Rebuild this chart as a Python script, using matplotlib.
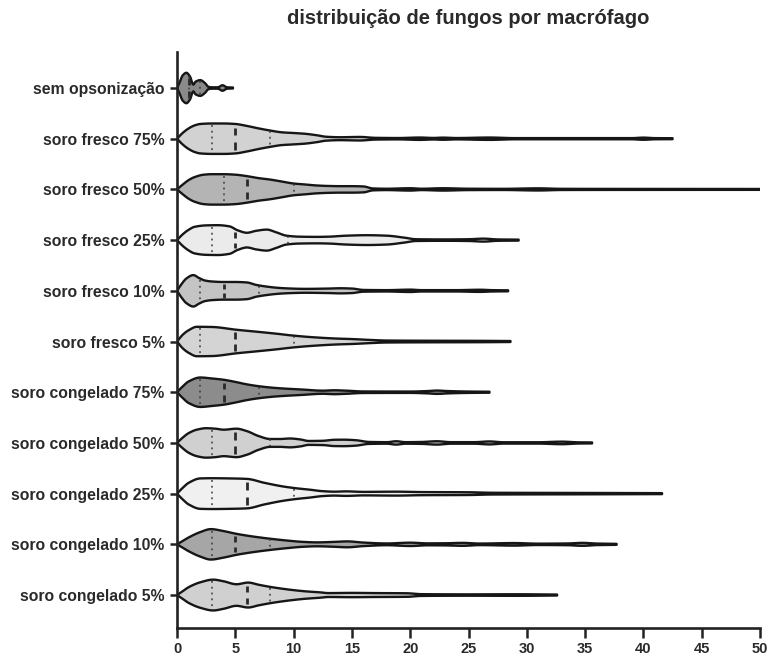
import numpy as np
import matplotlib
matplotlib.use("Agg")
import matplotlib.pyplot as plt

# ---------------- data ----------------
categories = [
    "sem opsonização",
    "soro fresco 75%",
    "soro fresco 50%",
    "soro fresco 25%",
    "soro fresco 10%",
    "soro fresco 5%",
    "soro congelado 75%",
    "soro congelado 50%",
    "soro congelado 25%",
    "soro congelado 10%",
    "soro congelado 5%",
]

# violin outlines: fungi-per-macrophage value and relative density (half width, 15.5 = widest)
v_sem = [0, 0.2, 0.5, 0.8, 1.1, 1.4, 1.6, 2.0, 2.4, 2.7, 3.0, 3.5, 3.9, 4.3, 4.8]
d_sem = [0, 5, 13, 15.5, 12, 3.5, 6.5, 8, 5, 1.2, 0.7, 0.7, 2.8, 0.7, 0.5]

v_f75 = [0, 0.5, 1, 1.5, 2, 3, 4, 5, 6, 7, 8, 9, 10, 11, 12, 12.8, 14, 15.7, 17, 19,
         20.8, 22, 22.8, 24, 26.8, 29, 35, 39, 40, 41, 42.5]
d_f75 = [0, 6, 10.5, 13.5, 15, 15.5, 15.5, 15, 13, 10.5, 8.3, 6.5, 5.8, 5, 3.5, 2.0, 1.5, 1.8, 0.9, 0.7,
         1.2, 0.8, 1.1, 0.7, 1.2, 0.6, 0.6, 0.6, 1.1, 0.6, 0.5]

v_f50 = [0, 0.5, 1, 1.5, 2.3, 3, 4, 5, 6, 7, 8, 9, 10, 11, 12, 13, 14, 15, 16, 16.8,
         18, 20, 21, 22.8, 25, 28, 31, 33, 40, 50]
d_f50 = [0, 5, 9.5, 12.5, 15, 15.5, 15.5, 15, 13.5, 11.5, 10, 8, 6, 5, 4, 3.5, 3.3, 3.3, 3, 1.0,
         0.7, 1.2, 0.7, 1.2, 0.7, 0.6, 1.1, 0.6, 0.5, 0.45]

v_f25 = [0, 0.5, 1, 1.5, 2.5, 3.5, 4.5, 5.2, 6, 6.8, 7.7, 8.5, 9.4, 10.5, 12, 13, 14.5,
         16.3, 18, 19.5, 20.5, 23, 25, 26.3, 27.5, 29.3]
d_f25 = [0, 6, 10.5, 13.5, 15, 15.2, 14, 10, 7.5, 9.5, 10.7, 8, 4.5, 3.5, 3.3, 3.5, 4.5,
         5, 4.5, 2.5, 0.9, 0.7, 0.9, 1.5, 0.7, 0.5]

v_f10 = [0, 0.4, 0.8, 1.4, 1.9, 2.4, 3, 4, 5, 6, 6.8, 7.7, 8.5, 9.4, 11, 13, 14, 15, 16,
         18, 20, 21, 24, 26, 27, 28.4]
d_f10 = [0, 7, 12.5, 16, 13, 10.5, 9.5, 9, 9, 8.5, 6, 4.3, 3.2, 2.5, 2.0, 2.3, 2.6, 2.3, 0.9,
         0.7, 1.2, 0.7, 0.7, 1.1, 0.7, 0.5]

v_f5 = [0, 0.5, 1, 1.7, 3, 5.1, 7, 8.5, 10, 11.5, 13.7, 15, 16.6, 18, 22, 26, 28.6]
d_f5 = [0, 7, 11.5, 15, 14.8, 12, 9.8, 8, 6, 4.5, 3, 2.5, 1.6, 1.0, 0.8, 0.7, 0.5]

v_c75 = [0, 0.5, 1, 2.0, 3, 4, 5, 6, 7.1, 8.5, 10.8, 12.5, 13.5, 14.5, 16, 20, 21.5,
         22.3, 23.2, 25, 26.8]
d_c75 = [0, 6, 11, 15, 14, 12.7, 10.5, 8, 6, 4.3, 2.7, 1.6, 2.0, 1.6, 0.8, 0.7, 1.2,
         1.7, 1.2, 0.7, 0.5]

v_c50 = [0, 0.5, 1, 1.7, 2.5, 3.3, 4, 5.1, 6, 7, 8, 8.8, 9.7, 10.6, 11.3, 12.5, 13.5,
         14.3, 15.3, 16.5, 18, 18.8, 19.6, 21, 22.3, 23.5, 25.5, 26.8, 28, 31, 33, 34.5, 35.6]
d_c50 = [0, 5.5, 10, 13.5, 15, 14.5, 13.5, 14.5, 12, 7, 4, 4, 4.5, 3.5, 2, 2.2, 3.2,
         3.3, 2.8, 1.0, 0.8, 1.7, 0.8, 1.0, 1.7, 0.8, 0.8, 1.5, 0.7, 0.7, 1.3, 0.6, 0.5]

v_c25 = [0, 0.5, 1, 2, 3, 4.5, 6, 7.5, 9.1, 10.2, 11.4, 12.5, 13.5, 14.5, 16, 18.8, 21,
         25, 27, 30, 35, 41.6]
d_c25 = [0, 6, 11, 15.5, 15.7, 15.5, 15, 11, 7.3, 5.5, 4, 2.5, 2.0, 2.3, 1.8, 2.0, 1.6,
         1.4, 0.9, 0.8, 0.7, 0.5]

v_c10 = [0, 0.5, 1, 2, 2.9, 4, 5.1, 6.5, 8, 9.5, 10.8, 12, 13.5, 14.6, 16, 18, 20, 21.5,
         23, 24.5, 26, 28.9, 31, 33.5, 34.8, 36, 37.7]
d_c10 = [0, 3.5, 7, 12.5, 15.5, 13.5, 10.7, 8, 5.7, 3.8, 2.5, 2, 2.5, 3, 1.8, 0.9, 1.7, 1.0,
         1.1, 1.5, 0.8, 1.3, 0.7, 0.9, 1.5, 0.8, 0.5]

v_c5 = [0, 0.5, 1, 2, 3.1, 4, 5.1, 6.1, 7, 8, 9, 10, 11, 12.3, 13, 15, 17, 19.7, 21, 25,
        29, 32.6]
d_c5 = [0, 4, 8, 13, 15.7, 14, 11, 12.7, 10.5, 8.3, 6.5, 5, 3.8, 2.7, 2.0, 2.2, 2.0, 1.8,
        0.9, 0.7, 0.8, 0.5]

violin_values = [v_sem, v_f75, v_f50, v_f25, v_f10, v_f5, v_c75, v_c50, v_c25, v_c10, v_c5]
violin_density = [d_sem, d_f75, d_f50, d_f25, d_f10, d_f5, d_c75, d_c50, d_c25, d_c10, d_c5]

q1 = [1, 3, 4, 3, 2, 2, 2, 3, 3, 3, 3]
medians = [1, 5, 6, 5, 4, 5, 4, 5, 6, 5, 6]
q3 = [2, 8, 10, 9.5, 7, 10, 7, 8, 10, 8, 8]

fills = ["#8a8a8a", "#d2d2d2", "#b4b4b4", "#ebebeb", "#c4c4c4", "#d4d4d4",
         "#8c8c8c", "#d0d0d0", "#f0f0f0", "#a6a6a6", "#d0d0d0"]

x_ticks = [0, 5, 10, 15, 20, 25, 30, 35, 40, 45, 50]
title = "distribuição de fungos por macrófago"


# ---------------- helpers ----------------
def pchip(x, y, xs):
    x = np.asarray(x, float)
    y = np.asarray(y, float)
    h = np.diff(x)
    d = np.diff(y) / h
    n = len(x)
    m = np.zeros(n)
    m[0] = d[0]
    m[-1] = d[-1]
    for k in range(1, n - 1):
        if d[k - 1] * d[k] <= 0:
            m[k] = 0.0
        else:
            w1 = 2 * h[k] + h[k - 1]
            w2 = h[k] + 2 * h[k - 1]
            m[k] = (w1 + w2) / (w1 / d[k - 1] + w2 / d[k])
    idx = np.clip(np.searchsorted(x, xs) - 1, 0, n - 2)
    t = (xs - x[idx]) / h[idx]
    h00 = 2 * t**3 - 3 * t**2 + 1
    h10 = t**3 - 2 * t**2 + t
    h01 = -2 * t**3 + 3 * t**2
    h11 = t**3 - t**2
    return (h00 * y[idx] + h10 * h[idx] * m[idx]
            + h01 * y[idx + 1] + h11 * h[idx] * m[idx + 1])


# ---------------- figure ----------------
plt.rcParams["font.family"] = ["Liberation Sans", "DejaVu Sans"]
plt.rcParams["font.weight"] = "bold"

fig = plt.figure(figsize=(7.69, 6.59), dpi=100)
ax = fig.add_axes([177 / 769, 1 - 628 / 659, (760 - 177) / 769, (628 - 52) / 659])

half_max = 0.30   # widest half width in category units
edge = "#161616"

for i, (vv, dd) in enumerate(zip(violin_values, violin_density)):
    vv = np.asarray(vv, float)
    dd = np.asarray(dd, float)
    xs = np.linspace(vv[0], vv[-1], 1500)
    ws = np.clip(pchip(vv, dd, xs), 0, None) / 15.5 * half_max
    poly_x = np.concatenate([xs, xs[::-1]])
    poly_y = np.concatenate([i - ws, (i + ws)[::-1]])
    ax.fill(poly_x, poly_y, facecolor=fills[i], edgecolor=edge, linewidth=1.7,
            joinstyle="round", zorder=2)

    def width_at(val):
        return float(np.clip(pchip(vv, dd, np.array([val])), 0, None)[0]) / 15.5 * half_max

    for q in (q1[i], q3[i]):
        w = width_at(q) * 0.9
        ax.plot([q, q], [i - w, i + w], color="#3a3a3a", linewidth=1.1,
                linestyle=(0, (1.2, 2.6)), zorder=3)
    w = width_at(medians[i])
    ax.plot([medians[i], medians[i]], [i - 0.76 * w, i - 0.22 * w], color="#2a2a2a",
            linewidth=2.0, solid_capstyle="butt", zorder=3)
    ax.plot([medians[i], medians[i]], [i + 0.22 * w, i + 0.76 * w], color="#2a2a2a",
            linewidth=2.0, solid_capstyle="butt", zorder=3)

ax.set_xlim(0, 50)
ax.set_ylim(10.65, -0.71)
ax.set_yticks(range(len(categories)))
ax.set_yticklabels(categories, fontsize=11.3, fontweight="bold", color="#2a2a2a")
ax.set_xticks(x_ticks)
ax.set_xticklabels([str(t) for t in x_ticks], fontsize=10.5, fontweight="bold", color="#2a2a2a")

for s in ("top", "right"):
    ax.spines[s].set_visible(False)
for s in ("left", "bottom"):
    ax.spines[s].set_linewidth(1.9)
    ax.spines[s].set_color("#222222")

ax.tick_params(axis="y", length=5, width=1.8, color="#222222", pad=4)
ax.tick_params(axis="x", length=7, width=1.8, color="#222222", pad=3)

fig.text((177 + 760) / 2 / 769, 1 - 19 / 659, title, ha="center", va="center",
         fontsize=14.5, fontweight="bold", color="#2a2a2a")

fig.savefig("out.png", dpi=100)
